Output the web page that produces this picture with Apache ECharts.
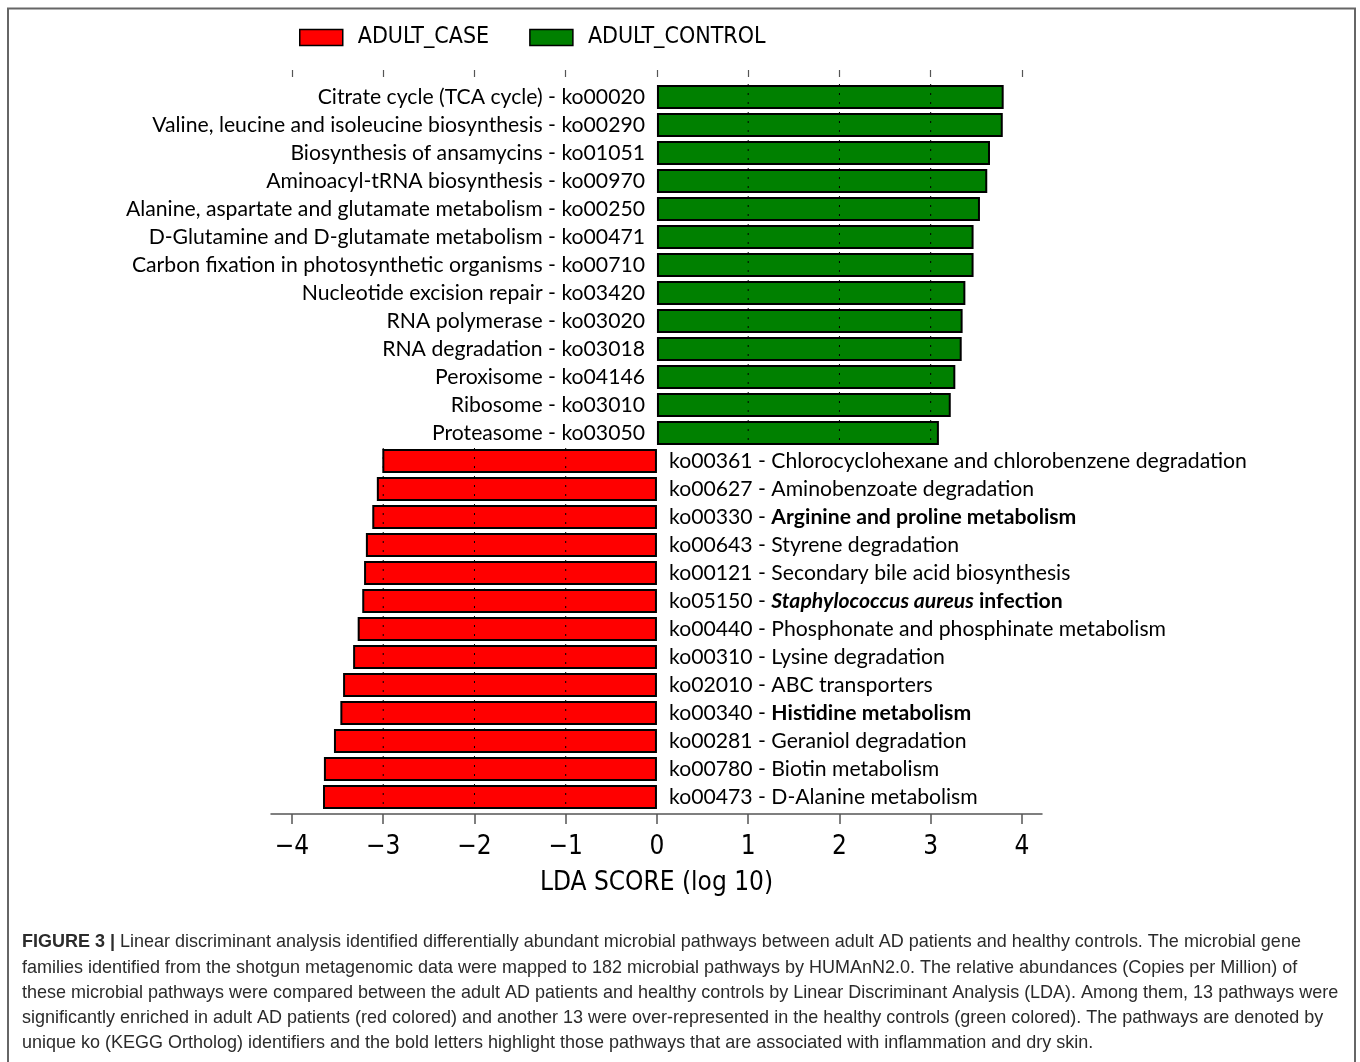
<!DOCTYPE html>
<html>
<head>
<meta charset="utf-8">
<script src="https://cdn.jsdelivr.net/npm/echarts@6/dist/echarts.min.js"></script>
<style>
html,body{margin:0;padding:0;background:#fff;}
#chart{width:1360px;height:1062px;}
</style>
</head>
<body>
<div id="chart"></div>
<script>
// ---- data ----
const controlNames = [
  "Citrate cycle (TCA cycle) - ko00020",
  "Valine, leucine and isoleucine biosynthesis - ko00290",
  "Biosynthesis of ansamycins - ko01051",
  "Aminoacyl-tRNA biosynthesis - ko00970",
  "Alanine, aspartate and glutamate metabolism - ko00250",
  "D-Glutamine and D-glutamate metabolism - ko00471",
  "Carbon fixation in photosynthetic organisms - ko00710",
  "Nucleotide excision repair - ko03420",
  "RNA polymerase - ko03020",
  "RNA degradation - ko03018",
  "Peroxisome - ko04146",
  "Ribosome - ko03010",
  "Proteasome - ko03050"
];
const controlValues = [3.80, 3.79, 3.65, 3.62, 3.54, 3.47, 3.47, 3.38, 3.35, 3.34, 3.27, 3.22, 3.09];

const caseIds = ["ko00361","ko00627","ko00330","ko00643","ko00121","ko05150","ko00440","ko00310","ko02010","ko00340","ko00281","ko00780","ko00473"];
const caseNames = [
  "Chlorocyclohexane and chlorobenzene degradation",
  "Aminobenzoate degradation",
  "Arginine and proline metabolism",
  "Styrene degradation",
  "Secondary bile acid biosynthesis",
  "Staphylococcus aureus infection",
  "Phosphonate and phosphinate metabolism",
  "Lysine degradation",
  "ABC transporters",
  "Histidine metabolism",
  "Geraniol degradation",
  "Biotin metabolism",
  "D-Alanine metabolism"
];
const caseValues = [-3.01, -3.07, -3.12, -3.19, -3.21, -3.23, -3.28, -3.33, -3.44, -3.47, -3.54, -3.65, -3.66];
const boldCase = ["ko00330", "ko05150", "ko00340"];

const xTicks = [-4, -3, -2, -1, 0, 1, 2, 3, 4];
const gridTicks = [-3, -2, -1, 1, 2, 3];
const legendNames = ["ADULT_CASE", "ADULT_CONTROL"];
const axisTitle = "LDA SCORE (log 10)";

const captionLines = [
  "{b|FIGURE 3 |} Linear discriminant analysis identified differentially abundant microbial pathways between adult AD patients and healthy controls. The microbial gene",
  "families identified from the shotgun metagenomic data were mapped to 182 microbial pathways by HUMAnN2.0. The relative abundances (Copies per Million) of",
  "these microbial pathways were compared between the adult AD patients and healthy controls by Linear Discriminant Analysis (LDA). Among them, 13 pathways were",
  "significantly enriched in adult AD patients (red colored) and another 13 were over-represented in the healthy controls (green colored). The pathways are denoted by",
  "unique ko (KEGG Ortholog) identifiers and the bold letters highlight those pathways that are associated with inflammation and dry skin."
];

// ---- build ----
const categories = controlNames.concat(caseIds.map((id, i) => id + " - " + caseNames[i]));
const nC = controlNames.length;
const controlData = controlValues.concat(caseValues.map(() => null));
const caseData = controlValues.map(() => null).concat(caseValues);
const allValues = controlValues.concat(caseValues);

const LABEL_FONT = "Lato, 'Open Sans', sans-serif";
const AXIS_FONT = "'DejaVu Sans Condensed', 'DejaVu Sans', sans-serif";
const LABEL_SIZE = 21.2;
const CAP_FONT = "'Liberation Sans', Arial, sans-serif";

function caseLabel(i) {
  const id = caseIds[i], name = caseNames[i];
  if (id === "ko05150") {
    return id + " - {bi|Staphylococcus aureus}{b| infection}";
  }
  if (boldCase.indexOf(id) >= 0) return id + " - {b|" + name + "}";
  return id + " - " + name;
}

const chart = echarts.init(document.getElementById('chart'), null, {renderer: 'canvas'});

const captionGraphics = captionLines.map((t, i) => ({
  type: 'text',
  x: 22,
  y: 942 + i * 25.3,
  scaleX: 0.947,
  silent: true,
  style: {
    text: t,
    x: 0, y: 0,
    fill: '#2b2b2b',
    font: "19px " + CAP_FONT,
    verticalAlign: 'middle',
    rich: {
      b: {fontWeight: 'bold', fontSize: 19, fontFamily: CAP_FONT, fill: '#2b2b2b'}
    }
  }
}));

const option = {
  animation: false,
  backgroundColor: '#fff',
  legend: {
    data: legendNames,
    left: 294, top: 21,
    itemWidth: 43, itemHeight: 16,
    itemGap: 40,
    icon: 'rect',
    textStyle: {fontFamily: AXIS_FONT, fontSize: 23, color: '#000', padding: [0, 0, 0, 10]},
    itemStyle: {borderColor: '#000', borderWidth: 1.5}
  },
  grid: {left: 271, width: 771, top: 83, height: 728},
  xAxis: [{
    type: 'value', min: -4.23, max: 4.22, position: 'bottom', offset: 3,
    axisLine: {show: true, onZero: false, lineStyle: {color: '#555', width: 1.5}},
    axisTick: {show: true, customValues: xTicks, length: 10, lineStyle: {color: '#555', width: 1.5}},
    axisLabel: {customValues: xTicks, margin: 20, fontSize: 26, fontFamily: AXIS_FONT, color: '#000',
      formatter: v => v < 0 ? '\u2212' + (-v) : String(v)},
    splitLine: {show: false},
    name: axisTitle, nameLocation: 'middle', nameGap: 56,
    nameTextStyle: {fontSize: 26, fontFamily: AXIS_FONT, color: '#000'}
  }, {
    type: 'value', min: -4.23, max: 4.22, position: 'top', offset: 6,
    axisLine: {show: false},
    axisTick: {show: true, customValues: xTicks, length: 7, lineStyle: {color: '#555', width: 1.2}},
    axisLabel: {show: false},
    splitLine: {show: false}
  }],
  yAxis: [{
    type: 'category', data: categories, inverse: true, position: 'left', offset: -386,
    axisLine: {show: false}, axisTick: {show: false},
    axisLabel: {interval: 0, hideOverlap: false, margin: 12, fontSize: LABEL_SIZE, fontFamily: LABEL_FONT, color: '#000',
      padding: [0, 0, 3, 0],
      formatter: (v, i) => i < nC ? v : ''}
  }, {
    type: 'category', data: categories, inverse: true, position: 'right', offset: -385,
    axisLine: {show: false}, axisTick: {show: false},
    axisLabel: {interval: 0, hideOverlap: false, margin: 12, fontSize: LABEL_SIZE, fontFamily: LABEL_FONT, color: '#000',
      formatter: (v, i) => i >= nC ? caseLabel(i - nC) : '',
      rich: {
        b: {fontWeight: 'bold', fontSize: LABEL_SIZE, fontFamily: LABEL_FONT, color: '#000'},
        bi: {fontWeight: 'bold', fontStyle: 'italic', fontSize: LABEL_SIZE, fontFamily: LABEL_FONT, color: '#000'}
      }}
  }],
  series: [{
    name: legendNames[0], type: 'bar', data: caseData, barWidth: 24, barGap: '-100%',
    itemStyle: {color: '#ff0000', borderColor: '#000', borderWidth: 2}
  }, {
    name: legendNames[1], type: 'bar', data: controlData, barWidth: 24, barGap: '-100%',
    itemStyle: {color: '#008000', borderColor: '#000', borderWidth: 2}
  }, {
    type: 'custom', z: 5, silent: true,
    data: allValues.map((v, i) => [v, i]),
    encode: {x: 0, y: 1},
    renderItem: function (params, api) {
      const v = api.value(0), idx = api.value(1);
      const c = api.coord([0, idx]);
      const half = 13;
      const children = [];
      gridTicks.forEach(t => {
        if ((v > 0 && t > 0 && t < v) || (v < 0 && t < 0 && t > v)) {
          const x = api.coord([t, idx])[0];
          children.push({
            type: 'line',
            shape: {x1: x, y1: c[1] - half, x2: x, y2: c[1] + half},
            style: {stroke: '#000', lineWidth: 1, lineDash: [2, 7]}
          });
        }
      });
      return {type: 'group', children: children};
    }
  }],
  graphic: [{
    type: 'rect', silent: true,
    shape: {x: 8, y: 8.5, width: 1347, height: 1100},
    style: {fill: null, stroke: '#666', lineWidth: 2}
  }].concat(captionGraphics)
};
chart.setOption(option);
</script>
</body>
</html>
